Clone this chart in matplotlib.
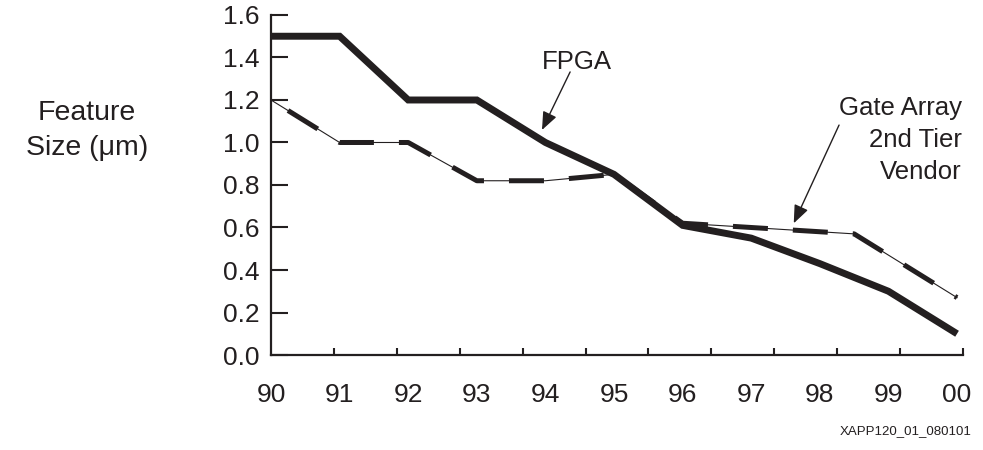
"""Feature size trend: FPGA vs. gate array (2nd tier vendor), 1990-2000."""

import matplotlib

matplotlib.use("Agg")
import matplotlib.pyplot as plt
import numpy as np

plt.rcParams["font.family"] = ["Liberation Sans", "DejaVu Sans"]

# ---------------------------------------------------------------- datos
years = [90, 91, 92, 93, 94, 95, 96, 97, 98, 99, 100]
year_labels = ["90", "91", "92", "93", "94", "95", "96", "97", "98", "99", "00"]

fpga_um = [1.5, 1.5, 1.2, 1.2, 1.0, 0.85, 0.61, 0.55, 0.43, 0.30, 0.10]

gate_years = [90, 91, 92, 93, 94, 95, 96, 97, 98.5, 100]
gate_um = [1.2, 1.0, 1.0, 0.82, 0.82, 0.85, 0.62, 0.60, 0.57, 0.27]

y_ticks = [0.0, 0.2, 0.4, 0.6, 0.8, 1.0, 1.2, 1.4, 1.6]

INK = "#231f20"

fig = plt.figure(figsize=(9.83, 4.5), dpi=100)
ax = fig.add_axes([0.2757, 0.2111, 0.704, 0.7556])

# eje x: las marcas del dibujo original no coinciden con las etiquetas
x_right = 90 + 10 * (963 - 271) / (957 - 271)
ax.set_xlim(90, x_right)
ax.set_ylim(0, 1.6)

# línea de gate array: trazo fino + guiones gruesos encima
ax.plot(gate_years, gate_um, color=INK, lw=0.8, zorder=2)
ax.plot(gate_years, gate_um, color=INK, lw=3.6,
        linestyle=(8, (7, 5)), dash_capstyle="butt", zorder=3)

# línea FPGA
ax.plot(years, fpga_um, color=INK, lw=5.0, solid_joinstyle="miter",
        solid_capstyle="butt", zorder=4, clip_on=False)

# spines
for side in ("top", "right"):
    ax.spines[side].set_visible(False)
for side in ("left", "bottom"):
    ax.spines[side].set_linewidth(1.6)
    ax.spines[side].set_color(INK)

ax.set_yticks(y_ticks)
ax.set_yticklabels([f"{v:.1f}" for v in y_ticks])
ax.tick_params(axis="y", direction="in", length=12, width=1.5, pad=8.5,
               labelsize=19, colors=INK)

ax.set_xticks(years)
ax.set_xticklabels(year_labels)
ax.tick_params(axis="x", which="major", length=0, pad=20, labelsize=19,
               colors=INK)
ax.set_xticks(np.linspace(90, x_right, 12)[1:], minor=True)
ax.tick_params(axis="x", which="minor", direction="in", length=5, width=1.5,
               colors=INK)

# etiqueta del eje y
fig.text(0.0885, 0.711, "Feature\nSize (\u03bcm)", ha="center", va="center",
         fontsize=20.5, color=INK, linespacing=1.45)

# anotaciones
arrow = dict(arrowstyle="-|>,head_length=1.1,head_width=0.45", color=INK,
             lw=1.0, shrinkA=0, shrinkB=0)
ax.text(94.46, 1.38, "FPGA", ha="center", va="center", fontsize=18.5,
        color=INK)
ax.annotate("", xy=(93.95, 1.059), xytext=(94.36, 1.332), arrowprops=arrow)

ax.text(100.07, 1.012, "Gate Array\n2nd Tier\nVendor", ha="right",
        va="center", fontsize=18.5, color=INK, linespacing=1.4)
ax.annotate("", xy=(97.62, 0.62), xytext=(98.28, 1.082), arrowprops=arrow)

fig.text(972 / 983, 1 - 431 / 450, "XAPP120_01_080101", ha="right",
         va="center", fontsize=9.5, color=INK)

fig.savefig("out.png", dpi=100)
